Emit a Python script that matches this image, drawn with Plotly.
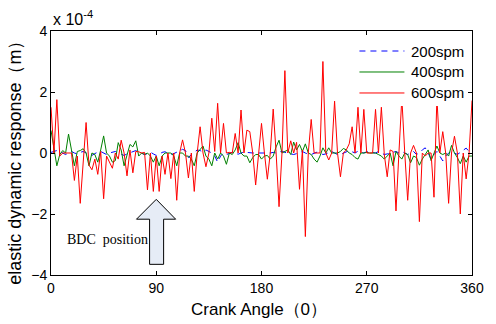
import numpy as np
import plotly.graph_objects as go

# crank angle sampled every 2.5 degrees
step = 2.5
n_pts = 145
angles = [i * step for i in range(n_pts)]

spm200 = [0.02, 0.05, 0.08, 0.05, 0.0, -0.05, 0.0, 0.05, 0.0, -0.03, 0.02,
          0.05, 0.0, -0.05, -0.08, -0.02, 0.03, 0.05, 0.0, -0.05, 0.0,
          0.03, 0.05, 0.0, -0.05, -0.08, -0.03, 0.0, 0.05, 0.08, 0.03,
          0.0, -0.05, -0.02, 0.03, -0.03, -0.08, -0.04, 0.02, 0.04, 0.0,
          -0.05, -0.02, 0.02, 0.06, 0.12, 0.08, -0.15, -0.05, 0.03, 0.1,
          0.08, 0.03, 0.1, 0.05, 0.0, -0.1, -0.3, -0.1, 0.0, -0.05,
          -0.02, 0.02, 0.0, -0.04, 0.0, 0.03, 0.02, 0.0, 0.0, 0.0,
          0.0, 0.0, -0.02, 0.0, 0.0, 0.02, 0.0, 0.03, 0.06, 0.02,
          0.0, -0.03, -0.05, -0.02, 0.02, 0.05, 0.0, -0.04, -0.05, 0.0,
          0.03, 0.0, -0.05, -0.03, 0.0, 0.05, 0.0, -0.05, -0.05, 0.0,
          0.05, 0.08, 0.04, 0.0, 0.06, 0.02, 0.0, 0.04, 0.03, 0.0,
          0.0, 0.05, 0.0, -0.05, -0.03, 0.0, 0.02, 0.05, 0.0, 0.05,
          0.0, -0.05, 0.0, 0.05, -0.05, 0.0, 0.1, 0.17, 0.0, -0.2,
          -0.05, 0.05, -0.1, -0.26, -0.1, 0.0, 0.05, 0.0, -0.05, 0.02,
          0.1, 0.16, 0.05, 0.02]

spm400 = [0.74, 0.1, -0.42, -0.05, 0.08, 0.0, 0.62, 0.1, -0.42, 0.05,
          0.08, 0.14, 0.0, -0.42, 0.0, -0.05, -0.3, 0.1, 0.56, 0.0,
          -0.1, -0.3, -0.25, 0.34, 0.1, -0.42, -0.05, 0.28, 0.2, 0.4,
          -0.1, 0.0, -0.05, 0.0, -0.1, -0.3, -0.1, -0.42, -0.1, 0.0,
          0.0, 0.0, -0.1, -0.42, 0.0, 0.0, -0.1, -0.1, -0.2, -0.42,
          0.0, 0.1, 0.23, -0.1, -0.2, -0.42, 0.0, -0.2, 0.0, -0.1,
          -0.37, 0.0, -0.05, 0.1, 0.34, 0.0, -0.1, -0.1, -0.32, -0.15,
          -0.05, -0.05, -0.2, -0.1, -0.08, -0.2, -0.1, 0.2, 0.42, 0.0,
          0.05, 0.1, -0.05, 0.36, 0.1, 0.28, 0.05, 0.3, 0.0, -0.05,
          -0.2, -0.3, -0.1, 0.17, 0.0, 0.17, 0.0, 0.0, 0.0, 0.05,
          0.15, 0.1, 0.0, -0.05, -0.15, -0.2, 0.0, 0.0, 0.02, 0.0,
          0.0, 0.0, -0.05, -0.1, -0.2, -0.1, 0.0, -0.42, 0.05, -0.1,
          -0.2, 0.0, -0.05, -0.32, -0.1, -0.15, -0.4, -0.2, -0.05, 0.1,
          -0.25, 0.0, 0.23, 0.0, -0.05, 0.0, -0.1, 0.25, 0.0, -0.15,
          -0.35, -0.1, -0.3, -0.1, -0.1]

spm600 = [1.5, 0.0, 1.75, -0.1, 0.0, 0.0, 0.0, 0.0, -0.9, -0.1,
          -1.65, -0.3, 1.0, -0.4, -0.55, -0.2, -0.7, 0.05, -1.5, -0.1,
          -0.3, -0.5, 0.0, -0.2, 0.42, 0.0, -0.75, 0.1, -0.65, 0.05,
          0.04, 0.0, 0.02, -1.21, 0.0, -1.26, -0.1, -1.26, -0.1, -0.7,
          0.0, -0.84, 0.0, -1.55, 0.0, 0.43, 0.0, -0.82, 0.0, -1.26,
          0.0, 0.86, 0.0, -0.45, 0.0, 1.14, 0.05, 1.63, 0.0, 0.97,
          0.0, 0.02, 0.0, 0.64, 0.0, 1.41, 0.0, 0.75, 0.7, 0.0,
          -1.05, 0.0, 0.97, 0.0, -0.86, 0.0, 1.44, 0.0, -1.76, 0.0,
          2.7, 0.0, 0.4, 0.0, 0.35, -1.19, 0.1, -2.74, 0.0, 1.1,
          0.0, 0.0, 0.0, 3.0, 0.0, -0.23, 0.0, 1.7, 0.0, -0.78,
          0.0, 0.1, 0.3, 0.86, 0.0, 1.5, 0.0, 1.43, 0.0, 0.0,
          0.0, 1.43, 0.0, 1.5, -0.05, -0.78, 0.1, 0.05, -1.9, 0.0,
          1.8, 0.0, -1.55, 0.0, 0.25, 0.0, -2.25, 0.0, -0.1, 0.0,
          0.0, -1.45, 1.8, 0.0, 0.7, 0.0, -1.65, 0.0, 0.55, 0.0,
          -2.0, 0.0, -0.85, 0.0, 1.72]

series_names = ["200spm", "400spm", "600spm"]
series_colors = ["#0000ff", "#008000", "#ff0000"]
series_dash = ["6px,5px", "solid", "solid"]

x_ticks = [0, 90, 180, 270, 360]
y_ticks = [-4, -2, 0, 2, 4]

FONT = "Liberation Sans, Arial, sans-serif"

fig = go.Figure()
for name, vals, col, dash in zip(series_names, [spm200, spm400, spm600],
                                 series_colors, series_dash):
    fig.add_trace(go.Scatter(x=angles, y=vals, mode="lines", name=name,
                             line=dict(color=col, width=1, dash=dash)))

# hollow block arrow marking BDC position
arrow_path = ("M 90,-1.52 L 106.6,-2.17 L 96.3,-2.17 L 96.3,-3.65 "
              "L 84.3,-3.65 L 84.3,-2.17 L 73.1,-2.17 Z")
fig.add_shape(type="path", path=arrow_path, xref="x", yref="y",
              fillcolor="#e6ecf6", line=dict(color="black", width=1))

fig.add_annotation(x=48.6, y=-2.83, xref="x", yref="y", text="BDC  position",
                   showarrow=False, xanchor="center", yanchor="middle",
                   font=dict(family="Liberation Serif, Times New Roman, serif",
                             size=14, color="black"))

# legend (opaque white box, like the original figure's legend)
fig.add_shape(type="rect", xref="paper", yref="paper", x0=0.723, x1=0.988,
              y0=0.693, y1=0.971, fillcolor="white", line=dict(width=0),
              layer="above")
leg_y = [0.918, 0.832, 0.746]
for name, col, dash, yy in zip(series_names, series_colors, series_dash, leg_y):
    fig.add_shape(type="line", xref="paper", yref="paper", x0=0.7326, x1=0.8395,
                  y0=yy, y1=yy, line=dict(color=col, width=1, dash=dash),
                  layer="above")
    fig.add_annotation(x=0.851, y=yy, xref="paper", yref="paper", text=name,
                       xanchor="left", yanchor="middle", showarrow=False,
                       font=dict(family=FONT, size=15, color="black"))

fig.add_annotation(x=0, y=1.053, xref="paper", yref="paper", xanchor="left",
                   yanchor="middle", text="x 10<sup>-4</sup>", showarrow=False,
                   font=dict(family=FONT, size=16, color="black"))
fig.add_annotation(x=0.495, y=-0.143, xref="paper", yref="paper",
                   xanchor="center", yanchor="middle",
                   text="Crank Angle（0）", showarrow=False,
                   font=dict(family=FONT, size=17, color="black"))
fig.add_annotation(x=-0.086, y=0.48, xref="paper", yref="paper", textangle=-90,
                   xanchor="center", yanchor="middle",
                   text="elastic dynamic response（m）", showarrow=False,
                   font=dict(family=FONT, size=18, color="black"))

axis_common = dict(showline=True, linecolor="black", linewidth=1, mirror="ticks",
                   ticks="inside", ticklen=4, tickcolor="black", showgrid=False,
                   zeroline=False, tickfont=dict(family=FONT, size=14, color="black"))

fig.update_xaxes(range=[0, 360], tickvals=x_ticks, **axis_common)
fig.update_yaxes(range=[-4, 4], tickvals=y_ticks, **axis_common)

fig.update_layout(
    width=496, height=324,
    margin=dict(l=51, r=15, t=31, b=49),
    paper_bgcolor="white", plot_bgcolor="white",
    showlegend=False,
)

fig.write_html("out.html")
